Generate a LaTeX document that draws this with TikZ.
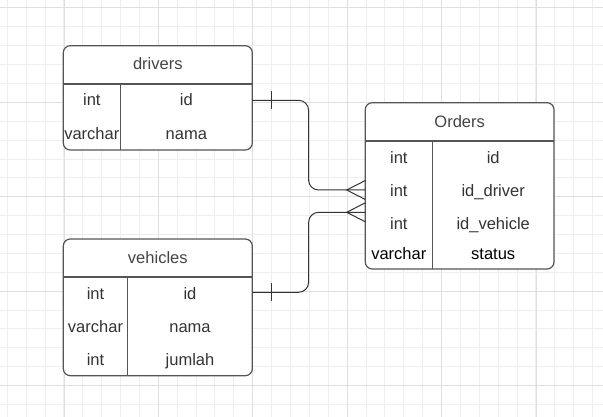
\documentclass[tikz,border=0pt]{standalone}
\usepackage{fontspec}
\setmainfont{Liberation Sans}
\definecolor{gridminor}{HTML}{EEEEEE}
\definecolor{gridmajor}{HTML}{DFDFDF}
\definecolor{boxline}{HTML}{555555}
\definecolor{linecol}{HTML}{333333}
\definecolor{txt}{HTML}{333333}
\definecolor{ttl}{HTML}{444444}
\begin{document}
\begin{tikzpicture}[x=1pt,y=-1pt,
  minor/.style={draw=gridminor,line width=1},
  major/.style={draw=gridmajor,line width=1},
  tbl/.style={draw=boxline,fill=white,line width=1.2,rounded corners=7,inner sep=0,outer sep=0},
  hdr/.style={draw=boxline,line width=1.7},
  col/.style={draw=boxline,line width=1.1},
  conn/.style={draw=linecol,line width=1},
  fld/.style={inner sep=0,anchor=base,text=txt,font=\fontsize{16.5}{20}\selectfont},
  title/.style={fld,text=ttl}]
\fill[white] (0,0) rectangle (603,417);
\useasboundingbox (0,0) rectangle (603,417);
\foreach \i in {0,...,31} \draw[minor] ({7.3+18.88*\i},0) -- ++(0,417);
\foreach \i in {0,...,21} \draw[minor] (0,{8+18.88*\i}) -- ++(603,0);
\foreach \i in {0,...,5} \draw[major] ({64+94.4*\i},0) -- ++(0,417);
\foreach \i in {0,...,4} \draw[major] (0,{8+94.4*\i}) -- ++(603,0);

\node[tbl,minimum width=189,minimum height=104.3] (drivers) at (157.8,97.85) {};
\draw[hdr] (drivers.north west) ++(0,38) -- ++(189,0);
\draw[col] (drivers.north west) ++(57,38) -- ++(0,66.3);
\node[title] (drivers-t) at (157.8,70) {drivers};
\node[fld] (d-int) at (91.8,106) {int};
\node[fld] (d-id) at (186.3,106) {id};
\node[fld] (d-varchar) at (91.8,139.3) {varchar};
\node[fld] (d-nama) at (186.3,139.3) {nama};

\node[tbl,minimum width=188.7,minimum height=166.3] (orders) at (459.65,185.85) {};
\draw[hdr] (orders.north west) ++(0,38) -- ++(188.7,0);
\draw[col] (orders.north west) ++(67,38) -- ++(0,128.3);
\node[title] (orders-t) at (459.65,127.3) {Orders};
\node[fld] (o-int1) at (398.8,164) {int};
\node[fld] (o-id) at (493.2,164) {id};
\node[fld] (o-int2) at (398.8,196.7) {int};
\node[fld] (o-iddriver) at (493.2,196.7) {id\_driver};
\node[fld] (o-int3) at (398.8,229.3) {int};
\node[fld] (o-idvehicle) at (493.2,229.3) {id\_vehicle};
\node[fld,text=black] (o-varchar) at (398.8,259.3) {varchar};
\node[fld,text=black] (o-status) at (493.2,259.3) {status};

\node[tbl,minimum width=189,minimum height=136.7] (vehicles) at (157.8,307.35) {};
\draw[hdr] (vehicles.north west) ++(0,37.7) -- ++(189,0);
\draw[col] (vehicles.north west) ++(64.4,37.7) -- ++(0,99);
\node[title] (vehicles-t) at (157.8,263) {vehicles};
\node[fld] (v-int1) at (95.5,299.3) {int};
\node[fld] (v-id) at (190,299.3) {id};
\node[fld] (v-varchar) at (95.5,332.3) {varchar};
\node[fld] (v-nama) at (190,332.3) {nama};
\node[fld] (v-int2) at (95.5,365) {int};
\node[fld] (v-jumlah) at (190,365) {jumlah};

\coordinate (bend) at (308.6,0);
\coordinate (d-out) at ([yshift=-54.6pt]drivers.north east);
\coordinate (v-out) at ([yshift=-53.3pt]vehicles.north east);
\coordinate (o-drv) at ([yshift=-87.3pt]orders.north west);
\coordinate (o-veh) at ([yshift=-109.6pt]orders.north west);
\draw[conn,rounded corners=10] (d-out) -- (bend |- d-out) -- (bend |- o-drv) -- (o-drv);
\draw[conn,rounded corners=10] (v-out) -- (bend |- v-out) -- (bend |- o-veh) -- (o-veh);
\draw[conn] (d-out) ++(19.4,-9) -- ++(0,18);
\draw[conn] (v-out) ++(19.4,-9) -- ++(0,18);
\draw[conn] (o-drv) ++(0,-9.5) -- ++(-18.6,9.5) -- ++(18.6,9.5);
\draw[conn] (o-veh) ++(0,-9.5) -- ++(-18.6,9.5) -- ++(18.6,9.5);
\end{tikzpicture}
\end{document}
